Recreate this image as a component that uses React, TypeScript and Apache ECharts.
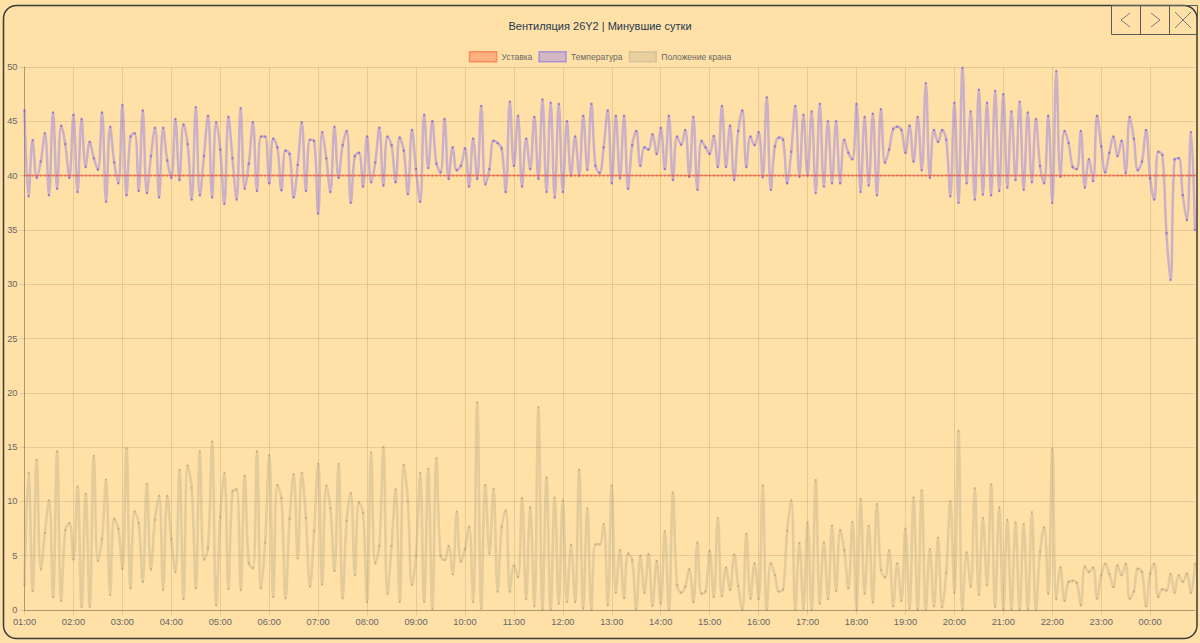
import { useEffect, useRef } from 'react';
import * as echarts from 'echarts';

const TITLE = 'Вентиляция 26Y2 | Минувшие сутки';
const NAME_SETPOINT = 'Уставка';
const NAME_TEMP = 'Температура';
const NAME_VALVE = 'Положение крана';

// hours of the day shown on the x axis (5-minute samples from 01:00 to 00:55)
const HOURS = [1, 2, 3, 4, 5, 6, 7, 8, 9, 10, 11, 12, 13, 14, 15, 16, 17, 18, 19, 20, 21, 22, 23, 0];
const MINUTES = [0, 5, 10, 15, 20, 25, 30, 35, 40, 45, 50, 55];

const SETPOINT_VALUE = 40;

const TEMPERATURE = [
  46.0, 38.1, 43.25, 39.8, 41.3, 43.9, 38.2, 45.8, 38.8, 44.6,
  42.9, 39.8, 45.6, 38.5, 45.2, 40.8, 43.1, 41.6, 40.55, 45.8,
  37.6, 44.5, 41.2, 39.3, 46.5, 38.2, 43.6, 43.9, 38.6, 46.0,
  38.4, 41.8, 44.4, 38.0, 44.4, 41.4, 39.8, 45.2, 39.6, 44.7,
  42.9, 37.8, 46.3, 38.2, 41.8, 45.5, 38.0, 44.9, 42.4, 37.4,
  45.4, 41.6, 37.8, 46.2, 38.8, 41.1,
  44.9, 38.6, 43.6, 43.6, 39.3, 43.4, 42.6, 38.65, 42.3, 42.0,
  38.0, 41.0, 44.9, 38.6, 43.3, 43.2, 36.5, 44.0, 41.6, 38.5,
  44.5, 39.8, 42.8, 44.1, 37.5, 41.8, 42.1, 39.0, 43.6, 39.4,
  41.2, 44.4, 39.1, 43.6, 42.8, 39.4, 43.5, 42.3, 38.3, 44.2,
  40.6, 37.6, 45.6, 40.7, 45.0, 41.1, 40.3, 45.2, 39.7, 42.6,
  40.5, 40.9, 42.5, 39.0, 43.4, 39.7, 46.4, 39.2,
  40.6,
  43.2, 43.0, 42.5, 38.5, 46.8, 40.9, 45.5, 39.0, 43.4, 40.6,
  45.4, 39.7, 47.0, 38.5, 46.7, 38.0, 46.6, 38.5, 45.0, 40.0,
  43.6, 40.0, 45.5, 40.55, 46.6, 40.9, 40.25, 42.6, 46.0, 39.3,
  45.5, 39.75, 45.5, 38.8, 42.8, 44.1, 40.9, 42.6, 42.4, 43.8,
  42.0, 44.4, 40.6, 45.5, 39.6, 43.6, 42.85, 44.2, 39.9, 45.4,
  38.7, 43.2, 42.6, 42.0, 43.65, 40.8, 46.4, 40.8,
  44.6,
  39.6, 44.1, 46.0, 40.8, 43.6, 42.8, 44.0, 39.85, 47.2, 38.7,
  42.7, 43.5, 43.3, 39.3, 42.2, 46.4, 39.9, 45.6, 40.0, 45.9,
  38.4, 46.6, 39.0, 45.0, 39.3, 45.0, 39.3, 43.3, 42.1, 41.5,
  46.6, 38.5, 45.4, 39.1, 45.7, 38.2, 46.1, 41.2, 42.4, 44.3,
  44.5, 44.2, 42.1, 44.6, 41.3, 45.4, 40.5, 48.5, 39.8, 44.2,
  43.1, 44.2, 43.3, 38.1, 46.7, 37.5, 49.9, 39.3,
  45.9, 37.8, 47.9, 38.25, 46.7, 38.2, 47.8, 38.6, 47.5, 38.9,
  45.9, 39.6, 46.8, 38.7, 45.8, 39.4, 45.2, 40.9, 39.3, 45.5,
  37.5, 49.6, 39.9, 44.1, 43.0, 40.8, 40.6, 44.1, 38.9, 41.5,
  39.5, 45.5, 42.7, 40.3, 42.1, 43.6, 41.8, 43.2, 40.25, 45.4,
  43.4, 40.5, 41.3, 44.2, 39.75, 37.8, 42.2, 41.9, 34.7, 30.4,
  41.5, 41.6, 38.2, 35.9, 44.0, 35.0,
];

const VALVE = [
  2.3, 12.6, 1.75, 13.8, 3.75, 7.1, 10.1, 1.2, 14.6, 0.85,
  7.35, 8.0, 4.65, 11.35, 0.3, 10.7, 0.3, 14.2, 4.55, 6.5,
  12.0, 1.4, 8.4, 7.5, 3.8, 14.9, 2.0, 9.05, 8.0, 2.6,
  11.6, 3.75, 8.3, 10.5, 1.85, 10.5, 6.5, 3.5, 12.9, 1.0,
  13.3, 11.25, 2.0, 14.6, 4.65, 5.75, 15.5, 0.45, 8.6, 12.6,
  1.95, 10.95, 11.1, 1.85, 12.35, 4.3,
  3.85, 14.6, 2.0, 6.2, 14.25, 1.2, 11.5, 10.3, 1.1, 8.4,
  12.5, 4.75, 12.6, 8.5, 2.15, 7.25, 13.45, 2.35, 11.45, 9.35,
  3.6, 13.45, 1.1, 8.2, 10.75, 3.2, 9.9, 8.95, 0.75, 14.5,
  4.3, 5.9, 15.0, 1.5, 5.9, 11.1, 0.75, 13.35, 10.0, 2.3,
  5.0, 12.6, 0.75, 13.0, 0.1, 13.95, 5.0, 4.6, 5.9, 3.3,
  9.05, 4.45, 5.6, 7.65, 0.75, 19.1,
  0.15, 11.5, 5.2, 11.15, 1.7, 7.65, 9.15, 1.7, 4.1, 3.05,
  10.3, 1.0, 9.45, 0.35, 18.65, 0, 12.2, 0, 10.35, 0.6,
  10.1, 0.75, 6.0, 0.75, 12.9, 0.15, 9.35, 0, 6.05, 6.05,
  7.9, 0.45, 11.45, 1.6, 5.5, 1.1, 5.2, 4.6, 0.05, 5.0,
  1.6, 5.15, 0.4, 4.5, 0.6, 7.25, 0, 10.8, 2.3, 1.6,
  2.15, 3.75, 0.75, 6.2, 1.5, 1.7, 5.45, 1.2, 8.45, 1.3,
  3.9, 1.85,
  5.1, 2.2, 0, 7.0, 1.05, 4.3, 1.0, 11.45, 0, 4.3,
  3.2, 1.7, 1.9, 7.3, 10.1, 0, 6.15, 0.15, 8.05, 0,
  11.95, 0.6, 6.2, 1.0, 7.75, 1.75, 7.35, 5.5, 2.0, 8.1,
  0, 10.2, 1.5, 7.75, 0.7, 9.75, 3.7, 3.0, 5.5, 0.35,
  4.3, 0.85, 7.5, 0.15, 10.35, 0.05, 11.0, 0, 5.6, 0.35,
  6.65, 0.25, 3.45, 10.0, 1.6, 16.5, 0.05, 5.3,
  2.15, 11.2, 1.4, 8.45, 2.3, 11.55, 0.3, 9.45, 0.05, 8.3,
  0.05, 8.05, 0.05, 7.9, 0.05, 9.0, 0, 5.35, 7.6, 1.5,
  14.8, 1.0, 3.9, 0.85, 2.6, 2.7, 2.5, 0.45, 4.0, 3.5,
  3.9, 1.05, 3.2, 4.25, 3.3, 2.1, 4.1, 3.2, 4.25, 1.05,
  1.7, 3.8, 3.5, 0.35, 3.35, 4.25, 1.2, 1.9, 1.8, 3.3,
  1.6, 3.2, 2.6, 3.35, 1.6, 4.25,
];

const pad = (n: number) => (n < 10 ? '0' + n : '' + n);
const CATEGORIES: string[] = [];
HOURS.forEach((h) => MINUTES.forEach((m) => CATEGORIES.push(pad(h) + ':' + pad(m))));
const SETPOINT = CATEGORIES.map(() => SETPOINT_VALUE);

const BG = '#FFE1A8';
const FONT = 'Arial, "Liberation Sans", Helvetica, sans-serif';

export default function App() {
  const ref = useRef<HTMLDivElement>(null);
  useEffect(() => {
    document.body.style.margin = '0';
    document.body.style.background = BG;
    const chart = echarts.init(ref.current!, undefined, { renderer: 'svg' });
    const showHour = (i: number) => i % 12 === 0;
    const btnStroke = '#5a5a5a';
    const glyph = '#7a7a7a';
    chart.setOption({
      animation: false,
      backgroundColor: BG,
      textStyle: { fontFamily: FONT },
      title: {
        text: TITLE,
        left: 'center',
        top: 15,
        textStyle: { fontSize: 11, fontWeight: 'normal', color: '#24384f', fontFamily: FONT },
      },
      legend: {
        top: 46,
        left: 'center',
        itemWidth: 27,
        itemHeight: 10,
        itemGap: 6,
        icon: 'rect',
        textStyle: { fontSize: 8.5, color: '#666', fontFamily: FONT },
        data: [
          { name: NAME_SETPOINT, itemStyle: { color: 'rgba(255,120,80,0.45)', borderColor: 'rgba(255,110,70,0.7)', borderWidth: 1.5 } },
          { name: NAME_TEMP, itemStyle: { color: 'rgba(110,90,255,0.3)', borderColor: 'rgba(110,90,255,0.5)', borderWidth: 1.5 } },
          { name: NAME_VALVE, itemStyle: { color: 'rgba(180,170,140,0.3)', borderColor: 'rgba(180,170,140,0.45)', borderWidth: 1.5 } },
        ],
      },
      grid: { left: 24.5, right: 5, top: 67, bottom: 33, containLabel: false },
      xAxis: {
        type: 'category',
        data: CATEGORIES,
        boundaryGap: false,
        axisLine: { show: true, lineStyle: { color: 'rgba(0,0,0,0.25)' } },
        axisTick: { show: true, interval: (i: number) => showHour(i), length: 5, lineStyle: { color: 'rgba(0,0,0,0.1)' } },
        axisLabel: { interval: (i: number) => showHour(i), fontSize: 9.3, color: '#666', margin: 7, fontFamily: FONT },
        splitLine: { show: true, interval: (i: number) => showHour(i), lineStyle: { color: 'rgba(0,0,0,0.1)' } },
      },
      yAxis: {
        type: 'value',
        min: 0,
        max: 50,
        interval: 5,
        axisLine: { show: true, lineStyle: { color: 'rgba(0,0,0,0.25)' } },
        axisTick: { show: true, length: 5, lineStyle: { color: 'rgba(0,0,0,0.1)' } },
        axisLabel: { fontSize: 9.3, color: '#666', margin: 7, fontFamily: FONT },
        splitLine: { show: true, lineStyle: { color: 'rgba(0,0,0,0.1)' } },
      },
      series: [
        {
          name: NAME_SETPOINT,
          type: 'line',
          data: SETPOINT,
          symbol: 'circle',
          symbolSize: 2,
          showSymbol: true,
          lineStyle: { color: 'rgba(240,90,60,0.55)', width: 1.5 },
          itemStyle: { color: 'rgba(230,80,60,0.6)' },
          z: 3,
        },
        {
          name: NAME_TEMP,
          type: 'line',
          data: TEMPERATURE,
          smooth: 0.4,
          symbol: 'circle',
          symbolSize: 2.5,
          showSymbol: true,
          lineStyle: { color: 'rgba(110,90,255,0.36)', width: 2.5 },
          itemStyle: { color: 'rgba(100,70,220,0.5)' },
          z: 2,
        },
        {
          name: NAME_VALVE,
          type: 'line',
          data: VALVE,
          smooth: 0.4,
          symbol: 'circle',
          symbolSize: 2,
          showSymbol: true,
          lineStyle: { color: 'rgba(180,165,130,0.36)', width: 2.6 },
          itemStyle: { color: 'rgba(150,135,100,0.45)' },
          z: 1,
        },
      ],
      graphic: [
        {
          type: 'rect',
          shape: { x: 3.5, y: 5.5, width: 1193.5, height: 633, r: 13 },
          style: { fill: 'none', stroke: '#3a3a3a', lineWidth: 1.5 },
          silent: true,
          z: 100,
        },
        {
          type: 'rect',
          shape: { x: 1111.5, y: 5.5, width: 86, height: 29 },
          style: { fill: 'none', stroke: btnStroke, lineWidth: 1 },
          silent: true,
          z: 100,
        },
        { type: 'line', shape: { x1: 1140.5, y1: 5.5, x2: 1140.5, y2: 34.5 }, style: { stroke: btnStroke, lineWidth: 1 }, z: 100 },
        { type: 'line', shape: { x1: 1169.5, y1: 5.5, x2: 1169.5, y2: 34.5 }, style: { stroke: btnStroke, lineWidth: 1 }, z: 100 },
        { type: 'polyline', shape: { points: [[1130, 13], [1121, 20], [1130, 27]] }, style: { stroke: glyph, lineWidth: 1, fill: 'none' }, z: 100 },
        { type: 'polyline', shape: { points: [[1151, 13], [1160, 20], [1151, 27]] }, style: { stroke: glyph, lineWidth: 1, fill: 'none' }, z: 100 },
        { type: 'line', shape: { x1: 1175, y1: 12, x2: 1191, y2: 28 }, style: { stroke: glyph, lineWidth: 1 }, z: 100 },
        { type: 'line', shape: { x1: 1191, y1: 12, x2: 1175, y2: 28 }, style: { stroke: glyph, lineWidth: 1 }, z: 100 },
      ],
    });
    return () => chart.dispose();
  }, []);
  return <div ref={ref} style={{ width: 1200, height: 643 }} />;
}
